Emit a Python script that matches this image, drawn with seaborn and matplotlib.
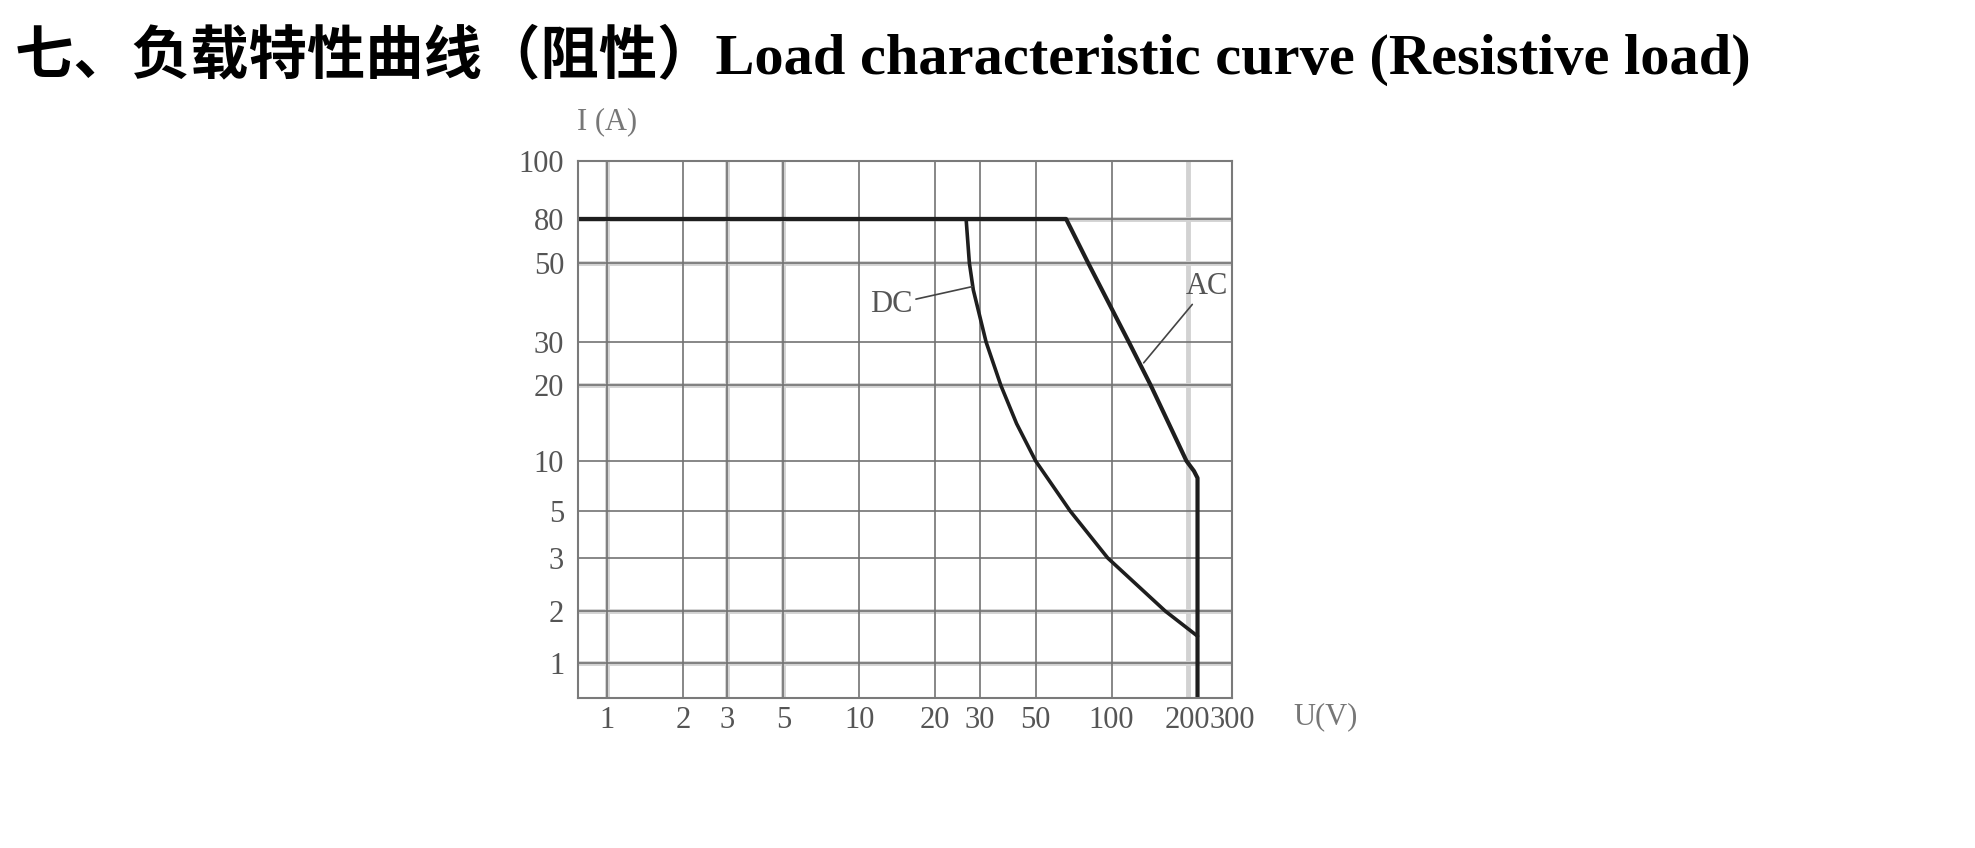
import numpy as np
import pandas as pd
import matplotlib
matplotlib.use("Agg")
import matplotlib.pyplot as plt
import seaborn as sns

# axis ticks
x_ticks = [1, 2, 3, 5, 10, 20, 30, 50, 100, 200, 300]
y_ticks = [1, 2, 3, 5, 10, 20, 30, 50, 80, 100]

# AC curve, U (V) vs I (A)
ac_u = [0.77, 66, 80.7, 117, 143, 198, 212, 219, 219]
ac_i = [80, 80, 50, 30, 20, 10, 8.7, 7.9, 0.63]

# DC curve
dc_u = [26.5, 27.3, 28.3, 31.8, 36.4, 42, 50, 68.5, 96.5, 163, 219]
dc_i = [80, 50, 42, 30, 20, 14.1, 10, 5, 3, 2, 1.43]

# the I axis of the datasheet is not log, not linear: piecewise between gridlines
y_knots = [0.63, 1, 2, 3, 5, 10, 20, 30, 50, 80, 100]
y_knot_pos = [0, 0.0652, 0.162, 0.2607, 0.3482, 0.4413, 0.5819, 0.6629, 0.8101, 0.892, 1.0]
log_knots = np.log10(y_knots)


def fwd(v):
    v = np.clip(np.asarray(v, dtype=float), 1e-6, None)
    return np.interp(np.log10(v), log_knots, y_knot_pos)


def inv(p):
    return 10 ** np.interp(np.asarray(p, dtype=float), y_knot_pos, log_knots)


sns.set_style("white")
plt.rcParams['font.family'] = ['Liberation Serif', 'Noto Sans CJK SC', 'DejaVu Sans']

fig = plt.figure(figsize=(19.75, 8.48), dpi=100)
ax = fig.add_axes([0.2927, 0.1769, 0.3311, 0.6333])
ax.set_xscale('log')
ax.set_yscale('function', functions=(fwd, inv))

# grid: light bands under some lines, like the scanned sheet
x_band = [1, 3, 5, 200]
y_band = [80, 50, 20, 2, 1]
for v in x_band:
    ax.axvline(v, color='#d2d2d2', lw=3.5, zorder=0)
for v in y_band:
    ax.axhline(v, color='#d2d2d2', lw=3.5, zorder=0)
for v in x_ticks:
    if v != 200:
        ax.axvline(v, color='#737373', lw=1.2, zorder=0.5)
for v in y_ticks:
    ax.axhline(v, color='#737373', lw=1.2, zorder=0.5)

df_ac = pd.DataFrame({'U': ac_u, 'I': ac_i})
df_dc = pd.DataFrame({'U': dc_u, 'I': dc_i})
sns.lineplot(data=df_ac, x='U', y='I', sort=False, estimator=None,
             color='#1e1e1e', lw=3, ax=ax)
sns.lineplot(data=df_dc, x='U', y='I', sort=False, estimator=None,
             color='#1e1e1e', lw=2.6, ax=ax)

ax.set_xlim(0.768, 300)
ax.set_ylim(0.63, 100)
ax.minorticks_off()
ax.set_xticks(x_ticks, labels=[str(t) for t in x_ticks])
ax.set_yticks(y_ticks, labels=[str(t) for t in y_ticks])
ax.tick_params(axis='both', length=0, labelsize=22, labelcolor='#555555')
ax.tick_params(axis='y', pad=10)
ax.tick_params(axis='x', pad=6)
ax.set_xlabel('')
ax.set_ylabel('')
for s in ax.spines.values():
    s.set_color('#7a7a7a')
    s.set_linewidth(1.5)

# curve labels with leader lines
ax.annotate('DC', xy=(28, 42.9), xytext=(13.4, 38.2), fontsize=22, color='#555555',
            ha='center', va='center',
            arrowprops=dict(arrowstyle='-', color='#444444', lw=1.2, shrinkA=0, shrinkB=0))
ax.annotate('AC', xy=(134, 24.7), xytext=(239, 42.9), fontsize=22, color='#555555',
            ha='center', va='center',
            arrowprops=dict(arrowstyle='-', color='#444444', lw=1.2, shrinkA=0, shrinkB=0))

fig.text(0.292, 0.856, 'I (A)', fontsize=22, color='#777777', ha='left', va='center')
fig.text(0.6547, 0.1545, 'U(V)', fontsize=22, color='#777777', ha='left', va='center')

fig.text(0.0076, 0.935, '七、负载特性曲线（阻性）Load characteristic curve (Resistive load)',
         fontsize=42, fontweight='bold', color='black', ha='left', va='center')

fig.savefig('out.png', dpi=100)
